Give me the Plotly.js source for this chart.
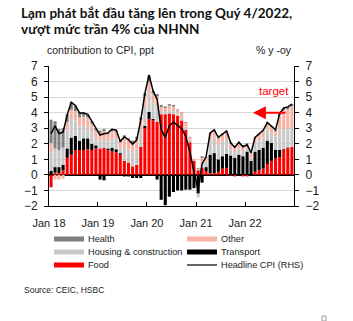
<!DOCTYPE html>
<html><head><meta charset="utf-8">
<script src="https://cdn.plot.ly/plotly-3.0.1.min.js"></script>
<style>body{margin:0;background:#fff}#chart{width:353px;height:321px}</style>
</head><body><div id="chart"></div>
<script>
const months = [
 "2018-01","2018-02","2018-03","2018-04","2018-05","2018-06","2018-07","2018-08","2018-09","2018-10","2018-11","2018-12",
 "2019-01","2019-02","2019-03","2019-04","2019-05","2019-06","2019-07","2019-08","2019-09","2019-10","2019-11","2019-12",
 "2020-01","2020-02","2020-03","2020-04","2020-05","2020-06","2020-07","2020-08","2020-09","2020-10","2020-11","2020-12",
 "2021-01","2021-02","2021-03","2021-04","2021-05","2021-06","2021-07","2021-08","2021-09","2021-10","2021-11","2021-12",
 "2022-01","2022-02","2022-03","2022-04","2022-05","2022-06","2022-07","2022-08","2022-09","2022-10","2022-11","2022-12"];

const food = [
 -0.8,0.15,0.1,0.3,1.1,1.3,1.6,1.6,1.6,1.65,1.6,1.7,
 1.7,1.75,1.6,1.5,1.45,1.3,0.9,0.8,0.55,0.65,1.8,3.0,
 3.6,3.5,3.4,3.9,3.9,3.95,3.9,3.8,3.5,2.9,2.1,0.9,
 0.3,0.45,0.25,0.1,0.1,0.2,0.4,0.45,-0.05,-0.1,0.0,-0.1,
 -0.1,0.0,0.2,0.3,0.4,0.7,0.9,1.05,1.15,1.6,1.75,1.8];
const transport = [
 0.25,0.35,0.4,0.35,0.6,1.1,0.9,0.6,0.75,0.7,0.4,0.2,
 -0.3,-0.35,0.1,0.25,0.2,0.1,-0.1,-0.1,-0.2,-0.2,-0.2,0.15,
 0.45,0.1,-0.3,-1.6,-1.95,-1.4,-1.1,-1.0,-1.0,-0.95,-0.95,-0.85,
 -1.2,-0.5,0.25,1.2,1.3,0.8,0.8,0.9,1.25,1.1,1.3,1.2,
 1.5,0.9,1.3,1.3,1.35,1.5,1.15,0.55,0.45,0.05,0.02,0.0];
const housing = [
 1.2,1.2,1.1,1.1,1.2,1.2,1.0,0.9,0.8,0.8,0.75,0.45,
 0.5,0.55,0.45,0.6,0.65,0.3,0.9,0.85,0.9,1.0,1.1,1.2,
 1.2,1.0,1.0,0.2,0.15,0.2,0.2,0.15,0.15,0.2,0.1,0.05,
 -0.25,0.3,0.35,0.9,1.0,0.9,0.95,0.95,0.4,0.35,0.4,0.3,
 0.2,0.2,0.5,0.6,0.65,0.7,0.65,0.85,1.3,1.35,1.15,1.2];
const other = [
 0.6,-0.3,-0.3,-0.25,0.5,0.6,0.6,0.6,0.6,0.55,0.55,0.5,
 0.5,0.5,0.45,0.45,0.45,0.4,0.6,0.6,0.6,0.65,0.65,0.7,
 0.75,0.65,0.65,0.25,0.25,0.3,0.3,0.2,0.3,0.25,0.2,0.1,
 0.1,0.35,0.25,0.45,0.45,0.45,0.45,0.45,0.4,0.35,0.35,0.35,
 0.3,0.3,0.35,0.4,0.4,0.42,0.4,0.4,0.95,1.15,1.3,1.4];
const health = [
 1.5,1.75,1.35,1.25,0.5,0.45,0.35,0.3,0.25,0.2,0.15,0.15,
 0.15,0.15,0.1,0.15,0.15,0.1,0.15,0.1,0.15,0.15,0.15,0.2,
 0.4,0.15,0.15,0.15,0.1,0.1,0.1,0.05,0.05,0.05,0.05,0.0,
 0.05,0.1,0.05,0.05,0.05,0.05,0.05,0.05,0.05,0.05,0.05,0.05,
 0.05,0.02,0.05,0.05,0.05,0.05,0.05,0.05,0.1,0.15,0.15,0.15];
const headline = [
 2.65,3.15,2.66,2.75,3.86,4.67,4.46,3.98,3.98,3.89,3.46,2.98,
 2.56,2.64,2.70,2.93,2.88,2.16,2.44,2.26,1.98,2.24,3.52,5.23,
 6.43,5.40,4.87,2.93,2.40,3.17,3.39,3.18,2.98,2.47,1.48,0.19,
 -0.97,0.70,1.16,2.70,2.90,2.41,2.64,2.82,2.06,1.77,2.10,1.81,
 1.94,1.42,2.41,2.64,2.86,3.37,3.14,2.89,3.94,4.30,4.37,4.55];
const tickVals = ["2018-01-01","2019-01-01","2020-01-01","2021-01-01","2022-01-01"];
const tickText = ["Jan 18","Jan 19","Jan 20","Jan 21","Jan 22"];
const yTicks = [-2,-1,0,1,2,3,4,5,6,7];

const FONT = "Liberation Sans, Arial, sans-serif";
const W = 353, H = 321, L = 49, R = 294, T = 66, B = 206;
const px = x => (x - L) / (R - L);
const py = y => (B - y) / (B - T);

const colors = {food:"#FF0000", transport:"#000000", housing:"#C8C8C8", other:"#F8B2A4", health:"#7F7F7F"};
function bar(name, y, c){
  return {type:"bar", name:name, x:months, y:y, marker:{color:c, line:{width:0}},
    xperiod:"M1", xperiodalignment:"middle", showlegend:false, hoverinfo:"skip"};
}
const data = [
  bar("Food", food, colors.food),
  bar("Transport", transport, colors.transport),
  bar("Housing & construction", housing, colors.housing),
  bar("Other", other, colors.other),
  bar("Health", health, colors.health),
  {type:"scatter", mode:"lines", name:"Headline CPI (RHS)", x:months, y:headline, yaxis:"y2",
   xperiod:"M1", xperiodalignment:"middle", line:{color:"#000", width:1.5}, showlegend:false}
];

const ann = [];
const shapes = [];
function txt(text, x, y, size, opts){
  ann.push(Object.assign({xref:"paper", yref:"paper", x:px(x), y:py(y), text:text, showarrow:false,
    xanchor:"left", yanchor:"middle", font:{family:FONT, size:size, color:"#222"}}, opts||{}));
}
// titles
const TF = {family:"Lato, sans-serif", size:13.5, color:"#111", weight:700};
txt("Lạm phát bắt đầu tăng lên trong Quý 4/2022,", 19, 13, 13.5, {font:TF});
txt("vượt mức trần 4% của NHNN", 19, 29, 13.5, {font:TF});
txt("contribution to CPI, ppt", 45, 50, 10.5);
txt("% y -oy", 294, 50, 10.5, {xanchor:"right"});
txt("target", 274, 91, 12, {xanchor:"center", font:{family:FONT, size:11.5, color:"#FF0000"}});
txt("Source: CEIC, HSBC", 22, 290, 8.5);

// legend
const leg = [
  ["Health", colors.health, 54, 239, "bar"],
  ["Housing & construction", colors.housing, 54, 252, "bar"],
  ["Food", colors.food, 54, 265, "bar"],
  ["Other", colors.other, 187, 239, "bar"],
  ["Transport", colors.transport, 187, 252, "bar"],
  ["Headline CPI (RHS)", "#000", 187, 265, "line"]
];
leg.forEach(([n, c, x, y, k]) => {
  if (k === "bar") {
    shapes.push({type:"rect", xref:"paper", yref:"paper", x0:px(x), x1:px(x+30), y0:py(y-2.5), y1:py(y+2.5),
      fillcolor:c, line:{width:0}});
  } else {
    shapes.push({type:"line", xref:"paper", yref:"paper", x0:px(x), x1:px(x+30), y0:py(y), y1:py(y),
      line:{color:c, width:1.2}});
  }
  txt(n, x+32, y, 9.2);
});
// target arrow
ann.push({xref:"x", yref:"y2", axref:"x", ayref:"y2", x:"2022-03-01", y:4, ax:"2022-11-10", ay:4,
  showarrow:true, arrowhead:2, arrowsize:1.3, arrowwidth:2, arrowcolor:"#FF0000", text:"", standoff:0});
// small square artifact
shapes.push({type:"rect", xref:"paper", yref:"paper", x0:px(322), x1:px(326), y0:py(321), y1:py(316),
  line:{color:"#999", width:1}, fillcolor:"rgba(0,0,0,0)"});

const axisY = {range:[-2,7], tickvals:yTicks, showgrid:true, gridcolor:"#D9D9D9", gridwidth:1,
  showline:true, linecolor:"#000", linewidth:1, ticks:"outside", ticklen:4, tickcolor:"#000",
  tickfont:{family:FONT, size:12, color:"#222"}, ticklabelstandoff:4, fixedrange:true};
const layout = {
  width:W, height:H, margin:{l:L, r:W-R, t:T, b:H-B, pad:0},
  paper_bgcolor:"#fff", plot_bgcolor:"#fff",
  barmode:"relative", bargap:0.22,
  showlegend:false,
  xaxis:{type:"date", range:["2018-01-01","2023-01-01"], tickvals:tickVals, ticktext:tickText,
    showgrid:false, showline:true, linecolor:"#000", linewidth:1, ticks:"inside", ticklen:4, tickcolor:"#000",
    tickfont:{family:FONT, size:11, color:"#222"}, ticklabelstandoff:7, zeroline:false},
  yaxis:Object.assign({}, axisY, {side:"left", zeroline:true, zerolinecolor:"#000", zerolinewidth:1.5}),
  yaxis2:Object.assign({}, axisY, {side:"right", overlaying:"y", showgrid:false, zeroline:false}),
  annotations:ann, shapes:shapes
};
Plotly.newPlot("chart", data, layout, {staticPlot:true, displayModeBar:false});
</script></body></html>
